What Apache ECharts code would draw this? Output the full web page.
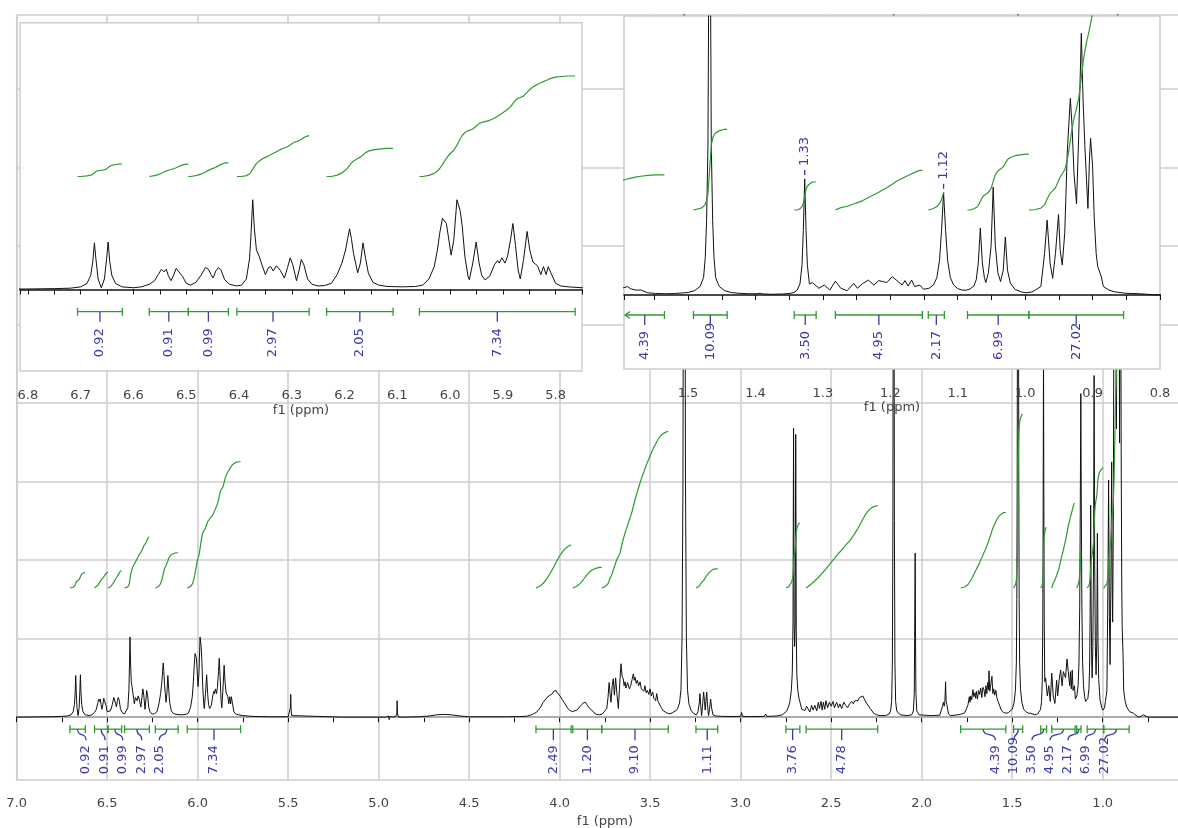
<!DOCTYPE html>
<html><head><meta charset="utf-8">
<script src="https://cdn.jsdelivr.net/npm/echarts@6/dist/echarts.min.js"></script>
<style>html,body{margin:0;padding:0;background:#fff}#c{width:1178px;height:828px}</style>
</head><body><div id="c"></div>
<script>
// ---- spectrum trace: [ppm, intensity] ----
const spectrum = [
[7.00,0],[6.90,0.003],[6.80,0.006],[6.75,0.01],[6.72,0.015],[6.700,0.03],[6.688,0.07],[6.681,0.16],[6.677,0.32],[6.674,0.53],[6.671,0.34],[6.667,0.12],[6.661,0.02],[6.655,0.12],[6.651,0.34],[6.648,0.54],[6.645,0.32],[6.641,0.16],[6.634,0.07],[6.622,0.03],[6.600,0.02],[6.585,0.03],
[6.570,0.06],[6.560,0.10],[6.553,0.17],[6.547,0.23],[6.542,0.20],[6.538,0.23],[6.534,0.16],[6.529,0.10],[6.524,0.16],[6.519,0.24],[6.515,0.21],[6.512,0.23],[6.507,0.15],[6.500,0.07],[6.492,0.05],
[6.482,0.08],[6.472,0.16],[6.4635,0.25],[6.458,0.23],[6.453,0.17],[6.449,0.13],[6.444,0.21],[6.439,0.25],[6.434,0.22],[6.427,0.11],[6.418,0.06],[6.405,0.04],
[6.395,0.05],[6.386,0.12],[6.380,0.35],[6.377,0.65],[6.374,1.02],[6.371,0.70],[6.367,0.45],[6.362,0.38],[6.357,0.29],[6.350,0.17],[6.344,0.25],[6.340,0.26],[6.335,0.21],[6.329,0.27],[6.322,0.22],[6.314,0.13],[6.308,0.25],[6.303,0.36],[6.298,0.28],[6.291,0.10],[6.286,0.22],[6.282,0.34],[6.277,0.28],[6.270,0.12],[6.262,0.06],[6.250,0.04],
[6.238,0.045],[6.225,0.07],[6.214,0.17],[6.205,0.30],[6.198,0.45],[6.194,0.58],[6.1905,0.69],[6.187,0.58],[6.183,0.41],[6.175,0.19],[6.170,0.30],[6.165,0.53],[6.160,0.35],[6.155,0.19],[6.146,0.08],[6.135,0.05],[6.120,0.035],[6.090,0.03],[6.065,0.035],
[6.052,0.05],[6.040,0.12],[6.030,0.26],[6.024,0.45],[6.0196,0.64],[6.0145,0.81],[6.007,0.75],[6.002,0.55],[5.998,0.39],[5.993,0.56],[5.987,1.02],[5.981,0.90],[5.977,0.72],[5.972,0.38],[5.966,0.15],[5.9635,0.11],[5.957,0.30],[5.9506,0.54],[5.945,0.30],[5.940,0.16],[5.934,0.11],[5.925,0.15],[5.916,0.28],[5.910,0.33],[5.907,0.30],[5.902,0.36],[5.896,0.30],[5.891,0.38],[5.885,0.58],[5.881,0.75],[5.876,0.50],[5.871,0.22],[5.867,0.12],[5.861,0.33],[5.854,0.66],[5.849,0.45],[5.843,0.31],[5.838,0.29],[5.834,0.265],[5.828,0.17],[5.823,0.26],[5.818,0.17],[5.814,0.26],[5.809,0.19],[5.800,0.07],[5.790,0.04],[5.776,0.03],[5.750,0.02],[5.700,0.01],[5.600,0.005],
[5.500,0.005],[5.491,0.03],[5.488,0.12],[5.486,0.29],[5.484,0.10],[5.481,0.02],[5.470,0.0],[5.200,0.0],[4.960,0.0],[4.950,-0.02],[4.946,0.015],[4.942,-0.03],[4.938,0.01],[4.933,-0.01],[4.925,0.0],[4.905,0.01],[4.900,0.05],[4.898,0.21],[4.896,0.04],[4.890,0.0],[4.850,0.0],[4.780,0.005],[4.720,0.015],[4.680,0.03],[4.640,0.035],[4.600,0.03],[4.550,0.015],[4.500,0.005],[4.300,0.005],[4.220,0.008],
[4.182,0.012],[4.150,0.035],[4.127,0.064],[4.105,0.13],[4.091,0.19],[4.070,0.25],[4.054,0.28],[4.040,0.30],[4.033,0.33],[4.026,0.31],[4.020,0.34],[4.013,0.31],[4.005,0.30],[3.998,0.27],[3.985,0.22],[3.971,0.17],[3.955,0.11],[3.943,0.085],[3.930,0.07],[3.921,0.064],
[3.905,0.09],[3.888,0.136],[3.878,0.16],[3.870,0.18],[3.864,0.17],[3.858,0.19],[3.850,0.16],[3.838,0.12],[3.823,0.09],[3.810,0.055],[3.796,0.035],[3.780,0.03],[3.765,0.04],
[3.750,0.08],[3.740,0.11],[3.733,0.25],[3.727,0.44],[3.722,0.30],[3.717,0.19],[3.710,0.40],[3.704,0.49],[3.698,0.28],[3.691,0.50],[3.684,0.30],[3.676,0.11],[3.670,0.35],[3.665,0.55],[3.661,0.68],[3.655,0.52],[3.649,0.49],[3.644,0.40],[3.639,0.45],[3.634,0.37],[3.630,0.38],[3.625,0.44],[3.621,0.43],[3.615,0.36],[3.608,0.40],[3.600,0.48],[3.593,0.55],[3.588,0.47],[3.584,0.51],[3.577,0.43],[3.571,0.47],[3.564,0.40],[3.556,0.45],[3.549,0.36],[3.541,0.38],[3.535,0.33],[3.529,0.40],[3.522,0.31],[3.516,0.34],[3.508,0.29],[3.501,0.36],[3.494,0.27],[3.486,0.32],[3.480,0.24],[3.477,0.255],[3.470,0.21],[3.464,0.30],[3.457,0.20],[3.450,0.21],[3.443,0.14],[3.436,0.11],[3.427,0.08],[3.418,0.064],[3.405,0.05],[3.391,0.042],[3.375,0.06],[3.363,0.076],
[3.350,0.10],[3.338,0.18],[3.330,0.35],[3.324,1.0],[3.319,3.0],[3.315,8.0],[3.312,14],[3.309,8.0],[3.305,3.0],[3.300,1.0],[3.294,0.35],[3.286,0.17],[3.275,0.09],[3.262,0.05],[3.252,0.03],
[3.245,0.03],[3.236,0.07],[3.229,0.18],[3.225,0.30],[3.221,0.15],[3.216,0.02],[3.210,0.17],[3.205,0.32],[3.200,0.20],[3.196,0.09],[3.192,0.21],[3.188,0.32],[3.184,0.18],[3.178,0.02],[3.172,0.10],[3.166,0.23],[3.161,0.12],[3.153,0.03],[3.140,0.015],
[3.100,0.01],[3.020,0.008],[3.000,0.012],[2.995,0.06],[2.990,0.01],[2.950,0.008],[2.870,0.01],[2.862,0.04],[2.856,0.01],[2.800,0.015],[2.770,0.03],
[2.760,0.04],[2.745,0.08],[2.735,0.14],[2.728,0.20],[2.720,0.35],[2.715,0.57],[2.711,1.2],[2.708,3.68],[2.705,1.2],[2.702,0.9],[2.699,1.2],[2.696,3.6],[2.693,1.1],[2.690,0.55],[2.685,0.35],[2.678,0.24],[2.670,0.17],
[2.663,0.10],[2.655,0.12],[2.645,0.085],[2.636,0.14],[2.627,0.12],[2.618,0.065],[2.608,0.15],[2.600,0.09],[2.590,0.15],[2.580,0.08],[2.571,0.19],[2.565,0.11],[2.556,0.20],[2.550,0.09],[2.543,0.19],[2.536,0.10],[2.529,0.21],[2.520,0.12],[2.510,0.19],[2.500,0.14],[2.490,0.20],[2.482,0.12],[2.470,0.19],[2.460,0.12],[2.452,0.17],[2.442,0.11],[2.430,0.19],[2.420,0.15],[2.410,0.12],[2.398,0.17],[2.387,0.20],[2.378,0.17],[2.369,0.21],[2.360,0.23],[2.352,0.21],[2.343,0.25],[2.333,0.23],[2.325,0.27],[2.315,0.22],[2.305,0.18],[2.295,0.16],[2.285,0.11],[2.276,0.085],[2.265,0.05],[2.250,0.03],[2.230,0.02],[2.200,0.02],[2.180,0.04],
[2.172,0.08],[2.166,0.2],[2.162,0.7],[2.159,2.5],[2.157,7],[2.155,14],[2.153,7],[2.151,2.5],[2.148,0.7],[2.144,0.2],[2.138,0.08],[2.120,0.03],[2.080,0.02],[2.055,0.03],
[2.046,0.08],[2.041,0.3],[2.039,1.0],[2.036,2.09],[2.034,1.0],[2.032,0.3],[2.027,0.08],[2.015,0.03],[1.950,0.02],[1.900,0.025],
[1.890,0.03],[1.884,0.15],[1.880,0.19],[1.876,0.14],[1.872,0.19],[1.868,0.45],[1.865,0.20],[1.861,0.16],[1.857,0.17],[1.852,0.04],[1.840,0.02],[1.800,0.03],[1.780,0.04],
[1.763,0.055],[1.752,0.11],[1.744,0.16],[1.737,0.26],[1.733,0.19],[1.729,0.27],[1.724,0.22],[1.717,0.35],[1.712,0.26],[1.706,0.31],[1.702,0.24],[1.698,0.33],[1.692,0.23],[1.686,0.34],[1.680,0.29],[1.674,0.37],[1.668,0.25],[1.662,0.38],[1.656,0.35],[1.650,0.26],[1.645,0.40],[1.640,0.30],[1.636,0.44],[1.631,0.35],[1.628,0.59],[1.624,0.33],[1.618,0.42],[1.612,0.52],[1.607,0.30],[1.602,0.36],[1.597,0.28],[1.590,0.34],[1.585,0.25],[1.578,0.20],[1.570,0.20],[1.560,0.09],[1.548,0.06],[1.533,0.05],[1.520,0.06],[1.510,0.08],
[1.500,0.10],[1.490,0.18],[1.482,0.35],[1.477,0.70],[1.4745,1.5],[1.4725,3.0],[1.4705,6],[1.468,20],[1.4655,6],[1.4635,3.0],[1.4615,1.5],[1.459,0.70],[1.454,0.35],[1.446,0.18],[1.436,0.10],[1.425,0.07],
[1.410,0.05],[1.398,0.05],[1.393,0.07],[1.388,0.04],[1.375,0.03],[1.360,0.04],[1.350,0.06],
[1.343,0.10],[1.338,0.20],[1.334,0.45],[1.331,1.2],[1.329,2.6],[1.327,4.68],[1.325,2.6],[1.323,1.2],[1.320,0.45],[1.3154,0.50],[1.306,0.27],[1.2979,0.40],[1.2897,0.20],[1.2815,0.56],[1.2734,0.27],[1.264,0.175],[1.2543,0.47],[1.2489,0.27],[1.2407,0.47],[1.2325,0.60],[1.2244,0.40],[1.2173,0.58],[1.2108,0.54],[1.2053,0.50],[1.1972,0.74],[1.1901,0.58],[1.1825,0.40],[1.1782,0.58],[1.1737,0.36],[1.1683,0.60],[1.1639,0.34],[1.1563,0.40],[1.1508,0.23],[1.1427,0.27],
[1.136,0.40],[1.131,0.70],[1.127,1.4],[1.124,2.6],[1.121,4.12],[1.118,2.6],[1.115,1.4],[1.111,0.70],[1.106,0.40],[1.100,0.26],[1.094,0.20],[1.088,0.19],[1.082,0.24],
[1.076,0.36],[1.0725,0.62],[1.0695,1.3],[1.0665,2.70],[1.0635,1.3],[1.0605,0.70],[1.0583,0.50],[1.0545,0.90],[1.0505,2.0],[1.0474,4.35],[1.0443,2.0],[1.0405,0.90],[1.0365,0.54],[1.0325,1.0],[1.0294,2.34],[1.0262,1.0],[1.022,0.48],[1.0148,0.22],[1.005,0.12],[0.9984,0.09],[0.990,0.12],[0.9848,0.20],[0.9767,0.34],[0.9712,1.68],[0.9674,3.02],[0.963,1.28],[0.9592,0.67],[0.955,1.68],[0.9505,3.25],[0.948,1.8],[0.945,1.21],[0.9413,2.49],[0.9374,5.85],[0.933,7.93],[0.9304,6.8],[0.9276,4.9],[0.9238,3.67],[0.9205,6.5],[0.9167,10.55],[0.9141,7.86],[0.9114,5.98],[0.9092,5.9],[0.9069,3.49],[0.9047,5.4],[0.903,6.32],[0.900,5.2],[0.8976,3.16],[0.8947,1.68],[0.8923,1.14],[0.887,0.74],[0.884,0.34],[0.8759,0.20],[0.8678,0.13],[0.8515,0.07],[0.8297,0.05],[0.805,0.0],[0.790,0.01],[0.775,0.03],[0.765,0.02],[0.750,0.0],[0.650,0.0],[0.500,0.0]
];

// ---- integral regions: [from ppm, to ppm, value] ----
const integralFrom  = [6.706,6.570,6.496,6.404,6.234,6.058,4.131,3.928,3.768,3.247,2.750,2.639,1.785,1.492,1.3425,1.2815,1.1437,1.0855,0.9945];
const integralTo    = [6.621,6.496,6.420,6.267,6.108,5.763,3.937,3.768,3.400,3.127,2.673,2.243,1.535,1.442,1.310,1.1525,1.1198,0.9945,0.854];
const integralValue = [0.92,0.91,0.99,2.97,2.05,7.34,2.49,1.20,9.10,1.11,3.76,4.78,4.39,10.09,3.50,4.95,2.17,6.99,27.02];
// where the main panel places each integral label (ppm)
const mainLabelAt   = [6.617,6.512,6.414,6.309,6.212,5.910,4.035,3.847,3.584,3.185,2.713,2.442,1.593,1.490,1.391,1.291,1.192,1.096,0.989];
// peak-picking labels in the right inset (ppm of peak)
const peakLabelPpm  = [1.327, 1.121];
// horizontal grid levels of the main panel
const mainGridLevels = [0,1,2,3,4,5,6,7,8];

const GREEN='#2f9a2f', BLUE='#3b3ba8', GRAY='#cdcdcd', TXT='#444', FONT='DejaVu Sans';

const integrals = integralFrom.map((f,i)=>[f, integralTo[i], integralValue[i]]);
const leftIdx = [0,1,2,3,4,5], rightIdx = [12,13,14,15,16,17,18];

function integralCurve(from, to, value){
  const pts = spectrum.filter(p => p[0] <= from && p[0] >= to);
  let acc = 0, prev = null; const cum = [[from, 0]];
  for (const p of pts){ if (prev) acc += (prev[0]-p[0])*(prev[1]+p[1])/2; cum.push([p[0], acc]); prev = p; }
  cum.push([to, acc]);
  return cum.map(c => [c[0], c[1]/acc*value]);
}

function curveSeries(idx, xi, yi, z){
  return idx.map(i => ({
    type:'line', xAxisIndex:xi, yAxisIndex:yi, z, silent:true, animation:false,
    symbol:'none', lineStyle:{color:GREEN, width:1.2},
    data: integralCurve(integrals[i][0], integrals[i][1], integrals[i][2])
  }));
}

function barSeries(idx, labelAt, xi, yi, z, o){
  return {
    type:'custom', xAxisIndex:xi, yAxisIndex:yi, z, silent:true, animation:false,
    encode:{x:[0,1], y:2},
    data: idx.map(i => [integrals[i][0], integrals[i][1], integrals[i][2], labelAt ? labelAt[i] : -1]),
    renderItem(params, api){
      const cs = params.coordSys;
      const from=api.value(0), to=api.value(1), val=api.value(2), la=api.value(3);
      const p1 = api.coord([from,0]), p2 = api.coord([to,0]);
      let x1=p1[0], x2=p2[0], arrow=false;
      if (x1 < cs.x){ x1 = cs.x+1; arrow = true; }
      if (x2 > cs.x+cs.width) x2 = cs.x+cs.width-1;
      const by = p1[1] + o.barOff;
      const cx = (x1+x2)/2;
      const lx = la < 0 ? cx : api.coord([la,0])[0];
      const st = {stroke:GREEN, lineWidth:1.3};
      const ch = [
        {type:'line', shape:{x1, y1:by, x2, y2:by}, style:st},
        {type:'line', shape:{x1:x2, y1:by-4, x2:x2, y2:by+4}, style:st}
      ];
      if (arrow) ch.push({type:'polyline', shape:{points:[[x1+5,by-3.5],[x1,by],[x1+5,by+3.5]]}, style:{stroke:GREEN, lineWidth:1.3, fill:null}});
      else ch.push({type:'line', shape:{x1, y1:by-4, x2:x1, y2:by+4}, style:st});
      const ty = by + o.tickLen;
      if (Math.abs(lx-cx) < 1.5) ch.push({type:'line', shape:{x1:lx, y1:by, x2:lx, y2:ty}, style:{stroke:BLUE, lineWidth:1.3}});
      else ch.push({type:'bezierCurve', shape:{x1:cx, y1:by, x2:lx, y2:ty, cpx1:cx, cpy1:by+o.tickLen*0.75, cpx2:lx, cpy2:by+o.tickLen*0.25}, style:{stroke:BLUE, lineWidth:1.3, fill:null}});
      ch.push({type:'text', x:lx, y:by+o.textOff, rotation:Math.PI/2,
        style:{text:val.toFixed(2), fill:BLUE, fontSize:13, fontFamily:FONT, align:'left', verticalAlign:'middle'}});
      return {type:'group', children:ch};
    }
  };
}

const peakData = peakLabelPpm.map(p => [p, spectrum.find(s => s[0] === p)[1]]);

const insetLabel = v => (Math.abs(v*10 - Math.round(v*10)) < 1e-6) ? v.toFixed(1) : '';
const axisText = {color:TXT, fontSize:13, fontFamily:FONT};

const option = {
  animation:false,
  backgroundColor:'#fff',
  grid:[
    {left:16.7, top:15, width:1176.5, height:765, outerBoundsMode:'none', containLabel:false, show:true, backgroundColor:'#fff', borderColor:GRAY, borderWidth:1.5, z:0},
    {left:20, top:22.7, width:562, height:348.3, outerBoundsMode:'none', containLabel:false, show:true, backgroundColor:'#fff', borderColor:GRAY, borderWidth:1.5, z:10},
    {left:624, top:16, width:536, height:353, outerBoundsMode:'none', containLabel:false, show:true, backgroundColor:'#fff', borderColor:GRAY, borderWidth:1.5, z:10}
  ],
  xAxis:[
    {gridIndex:0, type:'value', inverse:true, min:0.5, max:7.0, interval:0.5, offset:5,
     axisLine:{lineStyle:{color:'#111', width:1.5}}, axisTick:{length:5, lineStyle:{color:'#111'}},
     minorTick:{show:true, splitNumber:2, length:5, lineStyle:{color:'#111'}},
     axisLabel:Object.assign({margin:12, formatter:v=>v.toFixed(1)}, axisText),
     splitLine:{show:true, lineStyle:{color:GRAY, width:1.5}},
     name:'f1 (ppm)', nameLocation:'middle', nameGap:26, nameTextStyle:axisText},
    {gridIndex:1, type:'value', inverse:true, min:5.75, max:6.815, interval:0.05, offset:6,
     axisLine:{lineStyle:{color:'#111', width:1.5}}, axisTick:{length:5, lineStyle:{color:'#111'}},
     axisLabel:Object.assign({margin:12, formatter:insetLabel}, axisText),
     splitLine:{show:false}, z:11,
     name:'f1 (ppm)', nameLocation:'middle', nameGap:27, nameTextStyle:axisText},
    {gridIndex:2, type:'value', inverse:true, min:0.8, max:1.595, interval:0.05, offset:5,
     axisLine:{lineStyle:{color:'#111', width:1.5}}, axisTick:{length:5, lineStyle:{color:'#111'}},
     axisLabel:Object.assign({margin:13, formatter:insetLabel}, axisText),
     splitLine:{show:false}, z:11,
     name:'f1 (ppm)', nameLocation:'middle', nameGap:26, nameTextStyle:axisText}
  ],
  yAxis:[
    {gridIndex:0, type:'value', min:-0.8, max:8.94, show:false},
    {gridIndex:0, type:'value', min:-11.16, max:33.31, show:false},
    {gridIndex:1, type:'value', min:-0.926, max:3.032, show:false},
    {gridIndex:1, type:'value', min:-14.2, max:11.23, show:false},
    {gridIndex:2, type:'value', min:-2.984, max:11.25, show:false},
    {gridIndex:2, type:'value', min:-19.875, max:24.25, show:false}
  ],
  series:[
    {type:'line', xAxisIndex:0, yAxisIndex:0, z:2, silent:true, symbol:'none',
     lineStyle:{color:'#111', width:1}, data:spectrum,
     markLine:{z:1, silent:true, symbol:'none', label:{show:false}, animation:false,
       lineStyle:{color:GRAY, width:1.5, type:'solid'}, data:mainGridLevels.map(v=>({yAxis:v}))}},
    ...curveSeries(integrals.map((d,i)=>i), 0, 1, 3),
    barSeries(integrals.map((d,i)=>i), mainLabelAt, 0, 0, 3, {barOff:12, tickLen:11, textOff:45}),
    {type:'line', xAxisIndex:1, yAxisIndex:2, z:12, silent:true, symbol:'none',
     lineStyle:{color:'#111', width:1}, data:spectrum},
    ...curveSeries(leftIdx, 1, 3, 12),
    barSeries(leftIdx, null, 1, 2, 12, {barOff:22.2, tickLen:10, textOff:45.5}),
    {type:'line', xAxisIndex:2, yAxisIndex:4, z:12, silent:true, symbol:'none',
     lineStyle:{color:'#111', width:1}, data:spectrum},
    ...curveSeries(rightIdx, 2, 5, 12),
    barSeries(rightIdx, null, 2, 4, 12, {barOff:20, tickLen:10, textOff:45}),
    {type:'custom', xAxisIndex:2, yAxisIndex:4, z:13, silent:true, animation:false, data:peakData,
     renderItem(params, api){
       const p = api.coord([api.value(0), api.value(1)]);
       return {type:'group', children:[
         {type:'line', shape:{x1:p[0], y1:p[1]-4, x2:p[0], y2:p[1]-9}, style:{stroke:BLUE, lineWidth:1.3}},
         {type:'text', x:p[0], y:p[1]-13, rotation:Math.PI/2,
          style:{text:api.value(0).toFixed(2), fill:BLUE, fontSize:13, fontFamily:FONT, align:'left', verticalAlign:'middle'}}
       ]};
     }}
  ]
};
const chart = echarts.init(document.getElementById('c'), null, {renderer:'canvas'});
chart.setOption(option);
</script></body></html>
